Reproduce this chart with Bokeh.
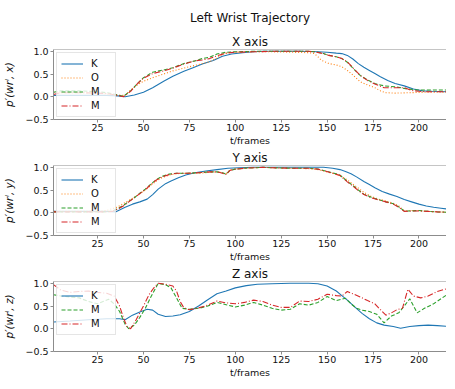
from bokeh.plotting import figure
from bokeh.models import Range1d, FixedTicker, Legend, LegendItem, Title, Span
from bokeh.layouts import column
from bokeh.embed import file_html
from bokeh.resources import INLINE

# ---------------- data ----------------
# X axis panel
x_K_t = [1, 10, 20, 30, 36, 40, 45, 50, 55, 61, 66, 72, 77, 82, 88, 93, 98, 104, 110, 115, 125, 135, 145, 150, 155, 158, 161, 164, 167, 170, 173, 176, 179, 183, 187, 192, 197, 202, 207, 216]
x_K_v = [0.03, 0.03, 0.03, 0.03, 0.02, 0.0, 0.04, 0.1, 0.2, 0.34, 0.45, 0.56, 0.64, 0.72, 0.8, 0.89, 0.94, 0.97, 0.99, 1.0, 1.0, 1.0, 0.99, 0.98, 0.96, 0.95, 0.91, 0.83, 0.73, 0.65, 0.58, 0.51, 0.44, 0.36, 0.29, 0.24, 0.17, 0.13, 0.12, 0.11]
x_O_t = [1, 5, 15, 25, 30, 35, 40, 43, 47, 50, 55, 61, 66, 72, 79, 86, 90, 93, 97, 100, 110, 120, 130, 140, 143, 145, 147, 151, 155, 158, 161, 164, 168, 172, 176, 179, 182, 187, 195, 205, 216]
x_O_v = [0.1, 0.09, 0.09, 0.08, 0.06, 0.03, 0.03, 0.15, 0.27, 0.34, 0.42, 0.5, 0.57, 0.63, 0.7, 0.77, 0.85, 0.94, 0.97, 0.98, 0.99, 0.99, 0.98, 0.97, 0.95, 0.88, 0.8, 0.73, 0.7, 0.66, 0.58, 0.48, 0.33, 0.26, 0.2, 0.13, 0.09, 0.08, 0.09, 0.1, 0.1]
x_G_t = [1, 5, 15, 25, 30, 35, 39, 43, 47, 50, 55, 61, 66, 72, 78, 82, 86, 90, 95, 100, 110, 120, 130, 140, 144, 148, 151, 155, 158, 161, 164, 168, 172, 176, 181, 187, 194, 199, 205, 216]
x_G_v = [0.1, 0.13, 0.13, 0.11, 0.09, 0.05, 0.01, 0.13, 0.3, 0.42, 0.54, 0.59, 0.64, 0.73, 0.79, 0.84, 0.87, 0.94, 0.98, 0.99, 1.0, 1.0, 1.0, 1.0, 0.99, 0.95, 0.91, 0.88, 0.84, 0.76, 0.63, 0.47, 0.37, 0.29, 0.24, 0.22, 0.17, 0.15, 0.15, 0.15]
x_R_t = [1, 5, 15, 25, 30, 35, 39, 43, 47, 50, 55, 61, 66, 72, 78, 82, 86, 90, 95, 100, 110, 120, 130, 140, 144, 148, 151, 155, 158, 161, 164, 168, 172, 176, 181, 187, 192, 196, 200, 205, 216]
x_R_v = [0.05, 0.09, 0.09, 0.08, 0.07, 0.04, 0.0, 0.12, 0.3, 0.41, 0.51, 0.57, 0.63, 0.72, 0.79, 0.81, 0.84, 0.9, 0.96, 0.98, 0.99, 1.0, 1.0, 1.0, 0.98, 0.95, 0.91, 0.88, 0.84, 0.77, 0.64, 0.47, 0.36, 0.28, 0.2, 0.2, 0.2, 0.14, 0.12, 0.11, 0.11]

# Y axis panel
y_K_t = [1, 15, 30, 35, 40, 44, 48, 52, 55, 58, 62, 65, 69, 73, 78, 84, 90, 96, 102, 110, 120, 135, 148, 153, 157, 160, 163, 166, 170, 173, 176, 180, 184, 188, 192, 196, 200, 204, 208, 212, 216]
y_K_v = [0.03, 0.03, 0.03, 0.02, 0.12, 0.19, 0.24, 0.3, 0.4, 0.52, 0.64, 0.7, 0.77, 0.83, 0.88, 0.92, 0.95, 0.98, 0.99, 1.0, 1.0, 1.0, 1.0, 0.98, 0.95, 0.91, 0.86, 0.79, 0.69, 0.62, 0.55, 0.47, 0.41, 0.36, 0.29, 0.24, 0.19, 0.15, 0.12, 0.1, 0.08]
y_M_t = [1, 15, 25, 30, 33, 36, 39, 42, 45, 48, 51, 54, 57, 60, 64, 68, 74, 80, 86, 90, 93, 95, 97, 100, 105, 110, 115, 120, 130, 140, 145, 149, 153, 157, 161, 164, 167, 170, 174, 178, 182, 186, 189, 192, 196, 200, 205, 210, 216]
y_O_v = [0.03, 0.03, 0.03, 0.05, 0.09, 0.13, 0.2, 0.27, 0.34, 0.42, 0.5, 0.6, 0.7, 0.77, 0.83, 0.86, 0.87, 0.87, 0.89, 0.9, 0.88, 0.86, 0.94, 0.96, 0.98, 0.99, 1.0, 0.99, 0.98, 0.97, 0.95, 0.91, 0.87, 0.82, 0.72, 0.63, 0.54, 0.45, 0.36, 0.3, 0.26, 0.21, 0.15, 0.04, 0.05, 0.05, 0.03, 0.02, 0.01]
y_G_v = [0.02, 0.02, 0.02, 0.02, 0.04, 0.09, 0.16, 0.25, 0.33, 0.43, 0.52, 0.63, 0.73, 0.8, 0.85, 0.87, 0.87, 0.88, 0.9, 0.9, 0.88, 0.85, 0.93, 0.96, 0.98, 0.99, 1.0, 0.99, 0.98, 0.98, 0.96, 0.92, 0.88, 0.83, 0.69, 0.6, 0.5, 0.41, 0.34, 0.29, 0.24, 0.2, 0.13, 0.04, 0.04, 0.05, 0.03, 0.02, 0.01]
y_R_v = [0.02, 0.02, 0.02, 0.02, 0.03, 0.08, 0.15, 0.24, 0.33, 0.42, 0.51, 0.62, 0.72, 0.79, 0.84, 0.87, 0.87, 0.88, 0.9, 0.9, 0.87, 0.84, 0.93, 0.96, 0.98, 0.99, 1.0, 0.99, 0.98, 0.98, 0.96, 0.92, 0.87, 0.82, 0.68, 0.59, 0.49, 0.4, 0.33, 0.28, 0.24, 0.19, 0.12, 0.03, 0.04, 0.04, 0.03, 0.02, 0.01]

# Z axis panel
z_K_t = [1, 10, 20, 30, 37, 40, 44, 48, 52, 55, 58, 62, 66, 70, 75, 80, 85, 90, 95, 100, 106, 112, 120, 130, 140, 145, 150, 155, 158, 161, 165, 169, 173, 177, 181, 186, 190, 195, 200, 205, 210, 216]
z_K_v = [0.15, 0.17, 0.2, 0.22, 0.22, 0.2, 0.3, 0.37, 0.43, 0.41, 0.32, 0.27, 0.28, 0.31, 0.38, 0.5, 0.64, 0.77, 0.83, 0.9, 0.95, 0.98, 0.99, 1.0, 1.0, 0.99, 0.94, 0.83, 0.73, 0.63, 0.48, 0.34, 0.22, 0.13, 0.08, 0.05, 0.01, 0.05, 0.07, 0.08, 0.07, 0.05]
z_G_t = [1, 5, 10, 15, 20, 25, 28, 31, 34, 37, 40, 42, 45, 48, 51, 54, 58, 62, 65, 68, 71, 75, 80, 85, 90, 95, 100, 105, 110, 115, 120, 125, 130, 135, 140, 145, 150, 155, 160, 163, 166, 169, 173, 177, 181, 185, 189, 192, 195, 199, 203, 208, 212, 216]
z_G_v = [0.75, 0.72, 0.7, 0.68, 0.6, 0.55, 0.6, 0.65, 0.55, 0.38, 0.1, 0.0, 0.08, 0.25, 0.45, 0.7, 1.0, 0.97, 0.9, 0.68, 0.45, 0.43, 0.45, 0.5, 0.58, 0.53, 0.48, 0.52, 0.58, 0.52, 0.45, 0.41, 0.43, 0.55, 0.52, 0.58, 0.71, 0.62, 0.67, 0.55, 0.45, 0.41, 0.38, 0.32, 0.13, 0.28, 0.35, 0.5, 0.66, 0.35, 0.45, 0.55, 0.66, 0.77]
z_R_t = [1, 5, 10, 15, 20, 25, 30, 34, 37, 39, 41, 43, 46, 50, 53, 56, 58, 62, 66, 68, 70, 72, 75, 80, 85, 90, 95, 100, 105, 110, 115, 120, 125, 130, 135, 140, 145, 150, 155, 158, 161, 164, 168, 172, 176, 179, 182, 185, 188, 191, 194, 197, 201, 205, 210, 216]
z_R_v = [0.97, 0.85, 0.8, 0.82, 0.83, 0.8, 0.78, 0.72, 0.5, 0.25, 0.05, 0.0, 0.2, 0.5, 0.75, 0.92, 1.0, 0.98, 0.94, 0.83, 0.6, 0.46, 0.42, 0.46, 0.52, 0.61, 0.57, 0.55, 0.58, 0.63, 0.6, 0.52, 0.47, 0.47, 0.61, 0.6, 0.65, 0.76, 0.73, 0.72, 0.82, 0.77, 0.7, 0.62, 0.55, 0.42, 0.3, 0.35, 0.42, 0.45, 0.87, 0.72, 0.68, 0.72, 0.82, 0.89]

x_ticks = [25, 50, 75, 100, 125, 150, 175, 200]
y_ticks = [-0.5, 0.0, 0.5, 1.0]
y_tick_labels = {-0.5: "\u22120.5", 0.0: "0.0", 0.5: "0.5", 1.0: "1.0"}

# ---------------- styling ----------------
FONT = "DejaVu Sans"
C_K, C_O, C_G, C_R = "#1f77b4", "#ff7f0e", "#2ca02c", "#d62728"
SPINE = "#8c8c8c"
TXT = "#111111"
Y0, Y1 = -0.5, 1.04
X0, X1 = 1, 215
DOT, DASH, DASHDOT = "1 2", "4 2", "6 2 1 2"


def make_fig(panel_title, ylabel, suptitle=None):
    p = figure(frame_width=393, frame_height=70, x_range=Range1d(X0, X1),
               y_range=Range1d(Y0, Y1), output_backend="svg",
               toolbar_location=None, title=None,
               min_border_left=46, min_border_right=0,
               min_border_top=0, min_border_bottom=0)
    p.outline_line_color = None
    p.xgrid.visible = False
    p.ygrid.visible = False
    p.background_fill_color = "white"
    p.border_fill_color = "white"
    p.add_layout(Title(text=panel_title, align="center", text_font=FONT,
                       text_font_size="12px", text_font_style="normal",
                       text_color=TXT, standoff=1), "above")
    if suptitle is not None:
        p.add_layout(Title(text=suptitle, align="center", text_font=FONT,
                           text_font_size="12px", text_font_style="normal",
                           text_color=TXT, standoff=16), "above")
    for ax in (p.xaxis[0], p.yaxis[0]):
        ax.axis_line_color = SPINE
        ax.major_tick_line_color = SPINE
        ax.minor_tick_line_color = None
        ax.major_tick_out = 3
        ax.major_tick_in = 0
        ax.major_label_text_font = FONT
        ax.major_label_text_font_size = "9.5px"
        ax.major_label_text_color = TXT
        ax.axis_label_text_font = FONT
        ax.axis_label_text_color = TXT
    p.xaxis.ticker = FixedTicker(ticks=x_ticks)
    p.yaxis.ticker = FixedTicker(ticks=y_ticks)
    p.yaxis.major_label_overrides = y_tick_labels
    p.xaxis.axis_label = "t/frames"
    p.xaxis.axis_label_text_font_size = "9.5px"
    p.xaxis.axis_label_text_font_style = "normal"
    p.xaxis.major_label_standoff = 1
    p.xaxis.axis_label_standoff = 1
    p.yaxis.axis_label = ylabel
    p.yaxis.axis_label_text_font_size = "10.5px"
    p.yaxis.axis_label_text_font_style = "italic"
    p.yaxis.major_label_standoff = 2
    p.yaxis.axis_label_standoff = 7
    p.add_layout(Span(location=Y1, dimension="width", line_color=SPINE, line_width=1))
    return p


def add_legend(p, items):
    leg = Legend(items=[LegendItem(label=l, renderers=[r]) for l, r in items],
                 location="top_left", margin=3, padding=4, spacing=1,
                 glyph_height=13, glyph_width=22, label_height=13,
                 label_standoff=8, label_text_font=FONT,
                 label_text_font_size="10px", label_text_color=TXT,
                 border_line_color="#cccccc", border_line_width=1,
                 background_fill_alpha=0.8)
    p.add_layout(leg)


LW = 1.1

p1 = make_fig("X axis", "p\u2032(wr\u02e1, x)", suptitle="Left Wrist Trajectory")
r1 = p1.line(x_K_t, x_K_v, line_color=C_K, line_width=LW)
r2 = p1.line(x_O_t, x_O_v, line_color=C_O, line_width=LW, line_dash=DOT)
r3 = p1.line(x_G_t, x_G_v, line_color=C_G, line_width=LW, line_dash=DASH)
r4 = p1.line(x_R_t, x_R_v, line_color=C_R, line_width=LW, line_dash=DASHDOT)
add_legend(p1, [("K", r1), ("O", r2), ("M", r3), ("M", r4)])

p2 = make_fig("Y axis", "p\u2032(wr\u02e1, y)")
s1 = p2.line(y_K_t, y_K_v, line_color=C_K, line_width=LW)
s2 = p2.line(y_M_t, y_O_v, line_color=C_O, line_width=LW, line_dash=DOT)
s3 = p2.line(y_M_t, y_G_v, line_color=C_G, line_width=LW, line_dash=DASH)
s4 = p2.line(y_M_t, y_R_v, line_color=C_R, line_width=LW, line_dash=DASHDOT)
add_legend(p2, [("K", s1), ("O", s2), ("M", s3), ("M", s4)])

p3 = make_fig("Z axis", "p\u2032(wr\u02e1, z)")
t1 = p3.line(z_K_t, z_K_v, line_color=C_K, line_width=LW)
t3 = p3.line(z_G_t, z_G_v, line_color=C_G, line_width=LW, line_dash=DASH)
t4 = p3.line(z_R_t, z_R_v, line_color=C_R, line_width=LW, line_dash=DASHDOT)
add_legend(p3, [("K", t1), ("M", t3), ("M", t4)])

layout = column(p1, p2, p3, spacing=0)

open("out.html", "w").write(file_html(layout, INLINE))
